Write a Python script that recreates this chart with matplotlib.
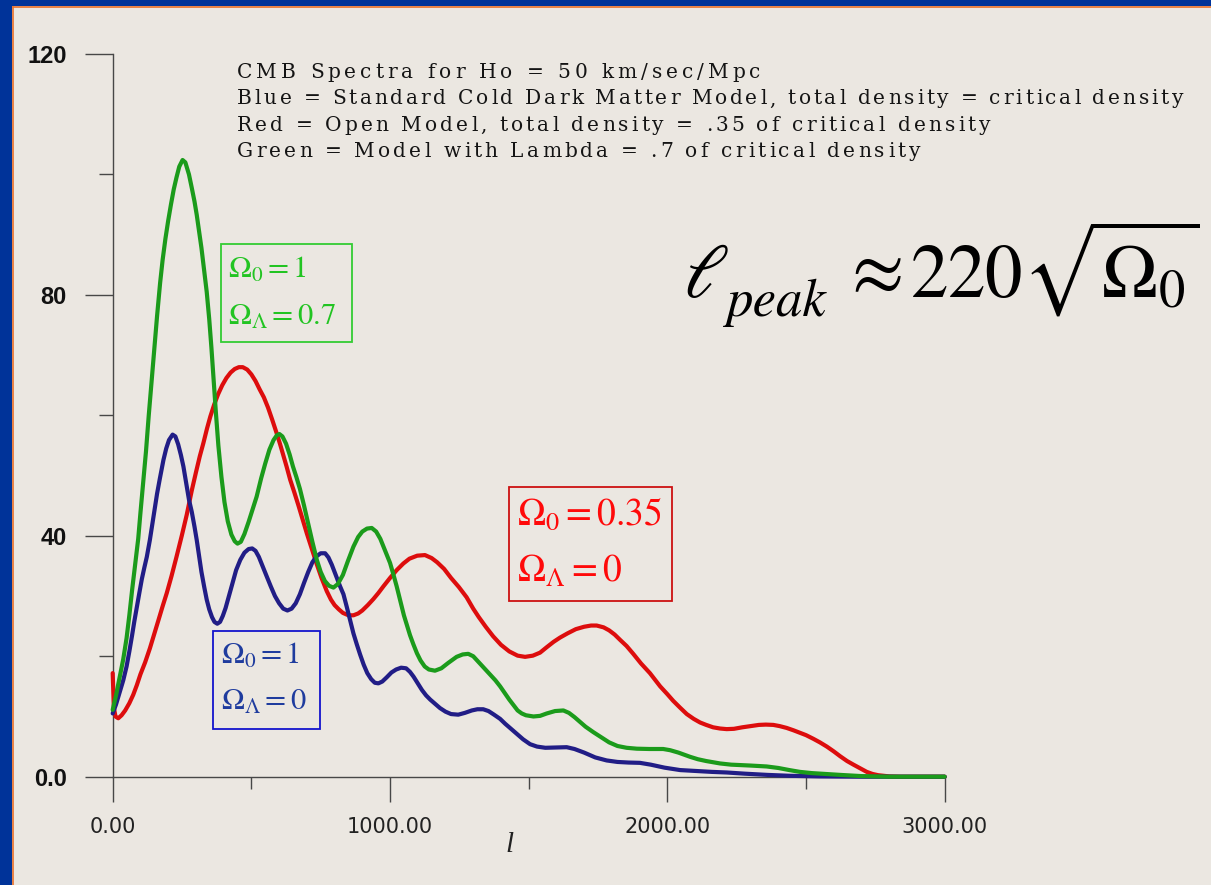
#!/usr/bin/env python3
"""
CMB angular power spectra for three cosmologies (Ho = 50 km/sec/Mpc).
Recreated slide figure, saved as out.png.
"""

import matplotlib
matplotlib.use("Agg")
import matplotlib.pyplot as plt
from matplotlib import font_manager
from matplotlib.ft2font import FT2Font
from matplotlib.patches import Rectangle
from matplotlib.lines import Line2D

# Canvas
W_PX, H_PX, DPI = 1211, 885, 100
BG = "#ebe7e1"
BORDER = "#003399"

# Blue = standard CDM (Omega_0 = 1, Lambda = 0)
blue_l = [0, 12, 25, 38, 50, 60, 70, 78, 87, 96, 105, 114, 123, 134, 150, 160,
          170, 183, 193, 203, 216, 226, 236, 246, 255, 265, 275, 285, 295, 303,
          312, 320, 330, 339, 348, 358, 367, 377, 387, 397, 407, 418, 430, 445,
          460, 475, 490, 503, 515, 527, 540, 555, 570, 585, 600, 615, 630, 645,
          660, 675, 690, 705, 720, 735, 750, 766, 778, 790, 800, 810, 820, 832,
          844, 856, 868, 880, 892, 905, 918, 932, 945, 958, 972, 988, 1005,
          1022, 1040, 1058, 1072, 1085, 1100, 1115, 1130, 1145, 1160, 1180,
          1200, 1220, 1246, 1270, 1295, 1315, 1336, 1355, 1375, 1397, 1415,
          1435, 1457, 1480, 1505, 1530, 1560, 1600, 1637, 1665, 1700, 1740,
          1781, 1820, 1860, 1901, 1940, 1990, 2046, 2100, 2160, 2214, 2280,
          2360, 2442, 2550, 2700, 3000]
blue_v = [10.5, 12.0, 14.0, 16.0, 18.3, 20.8, 23.5, 25.8, 28.2, 30.5, 32.8,
          34.7, 36.5, 39.3, 44.0, 47.0, 49.5, 52.6, 54.5, 55.9, 56.8, 56.5,
          55.2, 53.4, 51.5, 48.8, 46.0, 44.0, 41.5, 39.3, 36.5, 34.0, 31.5,
          29.4, 27.8, 26.5, 25.7, 25.4, 25.7, 26.7, 28.0, 29.8, 31.8, 34.3,
          36.0, 37.2, 37.8, 37.9, 37.5, 36.5, 35.0, 33.3, 31.6, 30.0, 28.8,
          27.9, 27.6, 27.9, 28.8, 30.3, 32.2, 34.0, 35.6, 36.6, 37.1, 37.1,
          36.4, 35.2, 34.0, 32.8, 31.6, 30.3, 28.2, 26.0, 23.8, 22.0, 20.3,
          18.6, 17.2, 16.2, 15.6, 15.5, 15.8, 16.5, 17.3, 17.8, 18.1, 18.0,
          17.4, 16.6, 15.5, 14.4, 13.5, 12.8, 12.2, 11.4, 10.8, 10.4, 10.3,
          10.6, 11.0, 11.2, 11.2, 10.9, 10.3, 9.6, 8.8, 8.0, 7.1, 6.2, 5.4,
          5.0, 4.8, 4.85, 4.9, 4.6, 4.0, 3.2, 2.7, 2.45, 2.35, 2.3, 2.0, 1.5,
          1.1, 0.95, 0.8, 0.7, 0.5, 0.3, 0.15, 0.05, 0.0, 0.0]

# Red = open model (Omega_0 = 0.35)
red_l = [0, 4, 10, 20, 32, 45, 60, 74, 87, 100, 117, 134, 150, 165, 180, 195,
         212, 230, 249, 267, 285, 300, 314, 327, 340, 352, 366, 380, 395, 410,
         425, 440, 455, 469, 485, 500, 515, 530, 545, 560, 575, 590, 603, 615,
         627, 640, 655, 670, 685, 700, 718, 735, 753, 772, 787, 800, 815, 830,
         850, 868, 885, 900, 920, 940, 958, 976, 1000, 1024, 1048, 1070, 1098,
         1126, 1150, 1170, 1195, 1220, 1248, 1276, 1300, 1320, 1345, 1372,
         1400, 1430, 1460, 1487, 1515, 1541, 1565, 1590, 1613, 1640, 1670,
         1700, 1725, 1745, 1770, 1790, 1810, 1830, 1853, 1877, 1905, 1937,
         1974, 2000, 2021, 2045, 2070, 2095, 2118, 2140, 2165, 2190, 2214,
         2240, 2270, 2300, 2330, 2355, 2382, 2405, 2430, 2455, 2478, 2500,
         2526, 2550, 2575, 2600, 2623, 2648, 2671, 2695, 2719, 2740, 2760,
         2800, 2840, 3000]
red_v = [17.2, 11.5, 10.0, 9.7, 10.2, 11.0, 12.2, 13.6, 15.2, 17.0, 19.0,
         21.3, 23.7, 26.0, 28.3, 30.5, 33.3, 36.5, 40.0, 43.5, 47.5, 50.5,
         53.2, 55.4, 57.8, 59.8, 61.8, 63.5, 65.0, 66.2, 67.1, 67.7, 68.0,
         68.0, 67.6, 66.8, 65.7, 64.3, 63.0, 61.3, 59.3, 57.2, 55.3, 53.4,
         51.5, 49.3, 47.2, 45.0, 42.7, 40.4, 37.8, 35.4, 33.0, 30.8, 29.4,
         28.5, 27.8, 27.2, 26.8, 26.8, 27.1, 27.6, 28.5, 29.5, 30.5, 31.6,
         33.0, 34.3, 35.4, 36.2, 36.7, 36.8, 36.3, 35.6, 34.5, 33.0, 31.5,
         29.8, 27.9, 26.5, 24.9, 23.3, 21.9, 20.8, 20.1, 19.9, 20.1, 20.6,
         21.5, 22.4, 23.1, 23.8, 24.5, 24.9, 25.1, 25.1, 24.8, 24.3, 23.6,
         22.7, 21.7, 20.4, 18.8, 17.2, 15.0, 13.7, 12.6, 11.5, 10.4, 9.6, 9.0,
         8.6, 8.2, 8.0, 7.9, 7.95, 8.2, 8.4, 8.6, 8.65, 8.6, 8.4, 8.1, 7.7,
         7.3, 6.9, 6.3, 5.7, 5.0, 4.2, 3.4, 2.6, 2.0, 1.4, 0.8, 0.45, 0.25,
         0.05, 0.0, 0.0]

# Green = flat model with Lambda = 0.7
green_l = [0, 12, 25, 38, 50, 60, 70, 81, 92, 100, 110, 120, 130, 141, 150,
           160, 171, 180, 190, 200, 210, 220, 230, 240, 252, 262, 275, 285,
           295, 303, 310, 320, 330, 339, 348, 356, 363, 372, 381, 392, 403,
           415, 428, 440, 450, 462, 475, 490, 505, 519, 535, 550, 565, 580,
           592, 601, 612, 625, 638, 650, 662, 675, 690, 705, 720, 736, 750,
           765, 780, 796, 812, 830, 848, 868, 885, 900, 917, 934, 950, 965,
           980, 1000, 1012, 1024, 1038, 1050, 1062, 1072, 1084, 1097, 1110,
           1125, 1140, 1162, 1185, 1210, 1240, 1262, 1282, 1300, 1320, 1340,
           1360, 1380, 1397, 1415, 1430, 1445, 1460, 1475, 1490, 1517, 1541,
           1565, 1595, 1625, 1645, 1665, 1685, 1705, 1733, 1760, 1790, 1820,
           1853, 1890, 1935, 1985, 2010, 2040, 2082, 2110, 2140, 2190, 2230,
           2300, 2358, 2400, 2440, 2478, 2520, 2570, 2623, 2700, 2800, 3000]
green_v = [11.1, 13.5, 16.5, 19.5, 23.0, 26.8, 31.0, 35.2, 39.5, 43.8, 48.8,
           54.0, 60.0, 66.0, 71.0, 76.5, 82.0, 85.8, 89.3, 92.3, 95.0, 97.5,
           99.5, 101.3, 102.4, 102.0, 100.0, 97.8, 95.5, 93.3, 91.0, 87.8,
           84.0, 80.5, 76.0, 71.2, 66.5, 60.5, 55.0, 49.8, 45.6, 42.4, 40.2,
           39.1, 38.7, 39.0, 40.3, 42.3, 44.5, 46.5, 49.5, 52.0, 54.3, 55.9,
           56.7, 56.9, 56.5, 55.3, 53.5, 51.5, 49.8, 47.8, 45.0, 42.0, 39.0,
           36.0, 34.0, 32.5, 31.7, 31.4, 32.0, 33.5, 35.8, 38.2, 39.8, 40.7,
           41.2, 41.3, 40.7, 39.5, 37.8, 35.5, 33.6, 31.6, 29.0, 26.8, 25.0,
           23.5, 22.0, 20.5, 19.3, 18.3, 17.8, 17.6, 18.0, 18.9, 19.9, 20.3,
           20.4, 20.0, 19.0, 18.0, 17.0, 16.0, 15.0, 13.8, 12.8, 11.9, 11.0,
           10.5, 10.2, 10.0, 10.1, 10.5, 10.9, 11.0, 10.6, 9.9, 9.1, 8.3, 7.4,
           6.6, 5.7, 5.1, 4.8, 4.65, 4.6, 4.6, 4.4, 4.0, 3.3, 2.9, 2.6, 2.2,
           2.0, 1.85, 1.7, 1.45, 1.1, 0.8, 0.6, 0.45, 0.3, 0.1, 0.0, 0.0]

x_major = [0, 1000, 2000, 3000]
x_labels = ["0.00", "1000.00", "2000.00", "3000.00"]
x_minor = [500, 1500, 2500]
y_major = [0, 40, 80, 120]
y_labels = ["0.0", "40", "80", "120"]
y_minor = [20, 60, 100]

header_lines = [
    "CMB Spectra for Ho = 50 km/sec/Mpc",
    "Blue = Standard Cold Dark Matter Model, total density = critical density",
    "Red = Open Model, total density = .35 of critical density",
    "Green = Model with Lambda = .7 of critical density",
]

plt.rcParams["mathtext.fontset"] = "stix"


def fx(px):
    return px / W_PX


def fy(py):
    return 1 - py / H_PX


fig = plt.figure(figsize=(W_PX / DPI, H_PX / DPI), dpi=DPI)
fig.patch.set_facecolor(BG)

# Slide border (blue band on left and top, thin orange edge)
fig.add_artist(Rectangle((0, 0), fx(12), 1, transform=fig.transFigure,
                         color=BORDER, lw=0))
fig.add_artist(Rectangle((0, fy(6)), 1, 6 / H_PX, transform=fig.transFigure,
                         color=BORDER, lw=0))
fig.add_artist(Line2D([fx(13), fx(13)], [0, fy(6.5)], transform=fig.transFigure,
                      color="#e8702a", lw=1.2))
fig.add_artist(Line2D([fx(12.5), 1], [fy(7), fy(7)], transform=fig.transFigure,
                      color="#e8702a", lw=1.2))

# Plot area
ax = fig.add_axes([fx(112.7), fy(776.7), (944.7 - 112.7) / W_PX, (776.7 - 54) / H_PX])
ax.set_facecolor("none")

line_kw = dict(lw=3, clip_on=False, solid_joinstyle="round", solid_capstyle="round")
ax.plot(red_l, red_v, color="#dd0d0d", zorder=3, **line_kw)
ax.plot(blue_l, blue_v, color="#211d86", zorder=4, **line_kw)
ax.plot(green_l, green_v, color="#1b9b1b", zorder=5, **line_kw)

ax.set_xlim(0, 3000)
ax.set_ylim(0, 120)
for side in ("top", "right"):
    ax.spines[side].set_visible(False)
for side in ("left", "bottom"):
    ax.spines[side].set_color("#474747")
    ax.spines[side].set_linewidth(1.0)

ax.set_xticks(x_major)
ax.set_xticklabels(x_labels)
ax.set_xticks(x_minor, minor=True)
ax.set_yticks(y_major)
ax.set_yticklabels(y_labels)
ax.set_yticks(y_minor, minor=True)

ax.tick_params(axis="x", which="major", direction="out", length=18, width=1.0,
               color="#474747", pad=11, labelsize=15, labelcolor="#222222")
ax.tick_params(axis="x", which="minor", direction="out", length=8.5, width=1.0,
               color="#474747")
ax.tick_params(axis="y", which="major", direction="out", length=20, width=1.0,
               color="#474747", pad=13, labelsize=17, labelcolor="#111111")
ax.tick_params(axis="y", which="minor", direction="out", length=10, width=1.0,
               color="#474747")
for lab in ax.get_yticklabels():
    lab.set_family(["Liberation Sans Narrow", "Liberation Sans", "DejaVu Sans"])
    lab.set_fontweight("bold")

ax.set_xlabel("l", family="Liberation Serif", style="italic", fontsize=21,
              color="#222222")
ax.xaxis.set_label_coords((510 - 112.7) / 832, (776.7 - 832) / 722.7)


# Header text with letter spacing fitted to the slide
def spaced_text(x0, x1, y, s, size, family, color="#141414"):
    prop = font_manager.FontProperties(family=family)
    ft = FT2Font(font_manager.findfont(prop), hinting_factor=1)
    ft.set_size(size, DPI)
    adv = [ft.load_char(ord(c)).linearHoriAdvance / 65536 for c in s]
    gap = (x1 - x0 - sum(adv)) / (len(s) - 1)
    x = x0
    for c, a in zip(s, adv):
        if c != " ":
            fig.text(fx(x), fy(y), c, fontsize=size, family=family, color=color,
                     ha="left", va="baseline")
        x += a + gap


header_right = [760, 1183, 990, 920]
header_base = [78.3, 104.5, 130.6, 156.7]
for line, xr, yb in zip(header_lines, header_right, header_base):
    spaced_text(237, xr, yb, line, 14.5, "DejaVu Serif")

# Peak location formula
fig.text(fx(683), fy(297), r"$\ell$", fontsize=55, ha="left", va="baseline")
fig.text(fx(727), fy(316), "peak", fontsize=38, family="STIXGeneral",
         style="italic", ha="left", va="baseline")
fig.text(fx(840), fy(292), r"$\approx$", fontsize=55, ha="left", va="baseline")
fig.text(fx(910), fy(298), r"$220\sqrt{\Omega_0}$", fontsize=54,
         ha="left", va="baseline")


# Model parameter boxes
def param_box(x0, y0, x1, y1, lines, bases, tx, size, tcolor, ecolor):
    fig.add_artist(Rectangle((fx(x0), fy(y1)), fx(x1) - fx(x0), fy(y0) - fy(y1),
                             transform=fig.transFigure, fill=False,
                             ec=ecolor, lw=1.3))
    for s, yb in zip(lines, bases):
        fig.text(fx(tx), fy(yb), s, fontsize=size, color=tcolor,
                 ha="left", va="baseline")


param_box(221, 244, 352, 342, [r"$\Omega_0 = 1$", r"$\Omega_\Lambda = 0.7$"],
          [278.3, 325], 228, 22, "#22c422", "#33cc33")
param_box(213, 631, 320, 729, [r"$\Omega_0 = 1$", r"$\Omega_\Lambda = 0$"],
          [664, 710], 220.7, 22, "#1f3c9e", "#1414cc")
param_box(509, 487, 672, 601, [r"$\Omega_0 = 0.35$", r"$\Omega_\Lambda = 0$"],
          [525, 581.7], 516.7, 27, "#ff0a0a", "#cc1111")

fig.savefig("out.png", dpi=DPI, facecolor=fig.get_facecolor())
